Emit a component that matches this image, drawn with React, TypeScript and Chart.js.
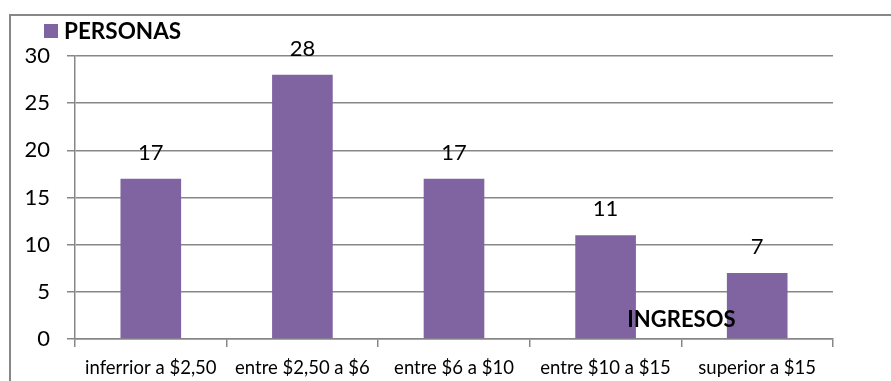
import { useEffect, useRef } from "react";
import { Chart, registerables } from "chart.js";

Chart.register(...registerables);

const categories = [
  "inferrior a $2,50",
  "entre $2,50 a $6",
  "entre $6 a $10",
  "entre $10 a $15",
  "superior a $15",
];
const personas = [17, 28, 17, 11, 7];
const seriesName = "PERSONAS";
const axisTitle = "INGRESOS";
const yMin = 0;
const yMax = 30;
const yStep = 5;

const FONT = "Lato, 'Open Sans', sans-serif";
const GRID = "#878787";
const BAR = "#8064A2";

const decor = {
  id: "decor",
  beforeDraw(chart: any) {
    const { ctx, width, height } = chart;
    ctx.save();
    ctx.fillStyle = "#ffffff";
    ctx.fillRect(0, 0, width, height);
    ctx.strokeStyle = GRID;
    ctx.lineWidth = 2;
    ctx.strokeRect(10, 15, width + 20, height + 20);
    ctx.restore();
  },
  afterDatasetsDraw(chart: any) {
    const { ctx } = chart;
    const xs = chart.scales.x;
    const ys = chart.scales.y;
    const ds = chart.data.datasets[0];
    ctx.save();
    // data labels
    ctx.fillStyle = "#000";
    ctx.font = `22px ${FONT}`;
    ctx.textAlign = "center";
    ctx.textBaseline = "middle";
    (ds.data as number[]).forEach((v, i) => {
      const x = xs.getPixelForValue(i);
      const y = ys.getPixelForValue(v) - 26;
      ctx.fillText(String(v), x, y);
    });
    // legend
    ctx.fillStyle = ds.backgroundColor as string;
    ctx.fillRect(44, 24, 14, 14);
    ctx.fillStyle = "#000";
    ctx.font = `bold 22.5px ${FONT}`;
    ctx.textAlign = "left";
    ctx.fillText(ds.label, 64, 32);
    // misplaced axis title
    ctx.font = `bold 22px ${FONT}`;
    ctx.textAlign = "center";
    ctx.fillText(axisTitle, xs.getPixelForValue(3.5), ys.getPixelForValue(2));
    ctx.restore();
  },
};

export default function App() {
  const ref = useRef<HTMLCanvasElement | null>(null);
  useEffect(() => {
    document.body.style.margin = "0";
    const chart = new Chart(ref.current as HTMLCanvasElement, {
      type: "bar",
      data: {
        labels: categories,
        datasets: [
          {
            label: seriesName,
            data: personas,
            backgroundColor: BAR,
            borderWidth: 0,
            barPercentage: 0.4,
            categoryPercentage: 1,
          },
        ],
      },
      options: {
        animation: false,
        responsive: true,
        maintainAspectRatio: false,
        layout: { padding: { top: 56, right: 58, left: 0, bottom: 0 } },
        plugins: {
          legend: { display: false },
          tooltip: { enabled: false },
        },
        scales: {
          x: {
            afterFit(scale: any) {
              scale.height = 42;
            },
            grid: {
              drawOnChartArea: false,
              drawTicks: true,
              tickLength: 8,
              offset: true,
              color: GRID,
              lineWidth: 1.5,
            },
            border: { color: GRID, width: 1.5 },
            ticks: {
              color: "#000",
              font: { family: FONT, size: 18.5 },
              padding: 10,
              maxRotation: 0,
              autoSkip: false,
            },
          },
          y: {
            min: yMin,
            max: yMax,
            afterFit(scale: any) {
              scale.width = 75;
            },
            grid: { color: GRID, lineWidth: 1.5, tickLength: 8 },
            border: { color: GRID, width: 1.5 },
            ticks: {
              stepSize: yStep,
              color: "#000",
              font: { family: FONT, size: 22 },
              padding: 17,
            },
          },
        },
      },
      plugins: [decor],
    });
    return () => chart.destroy();
  }, []);
  return (
    <div style={{ position: "absolute", left: 0, top: 0, width: 891, height: 381 }}>
      <canvas ref={ref} />
    </div>
  );
}
